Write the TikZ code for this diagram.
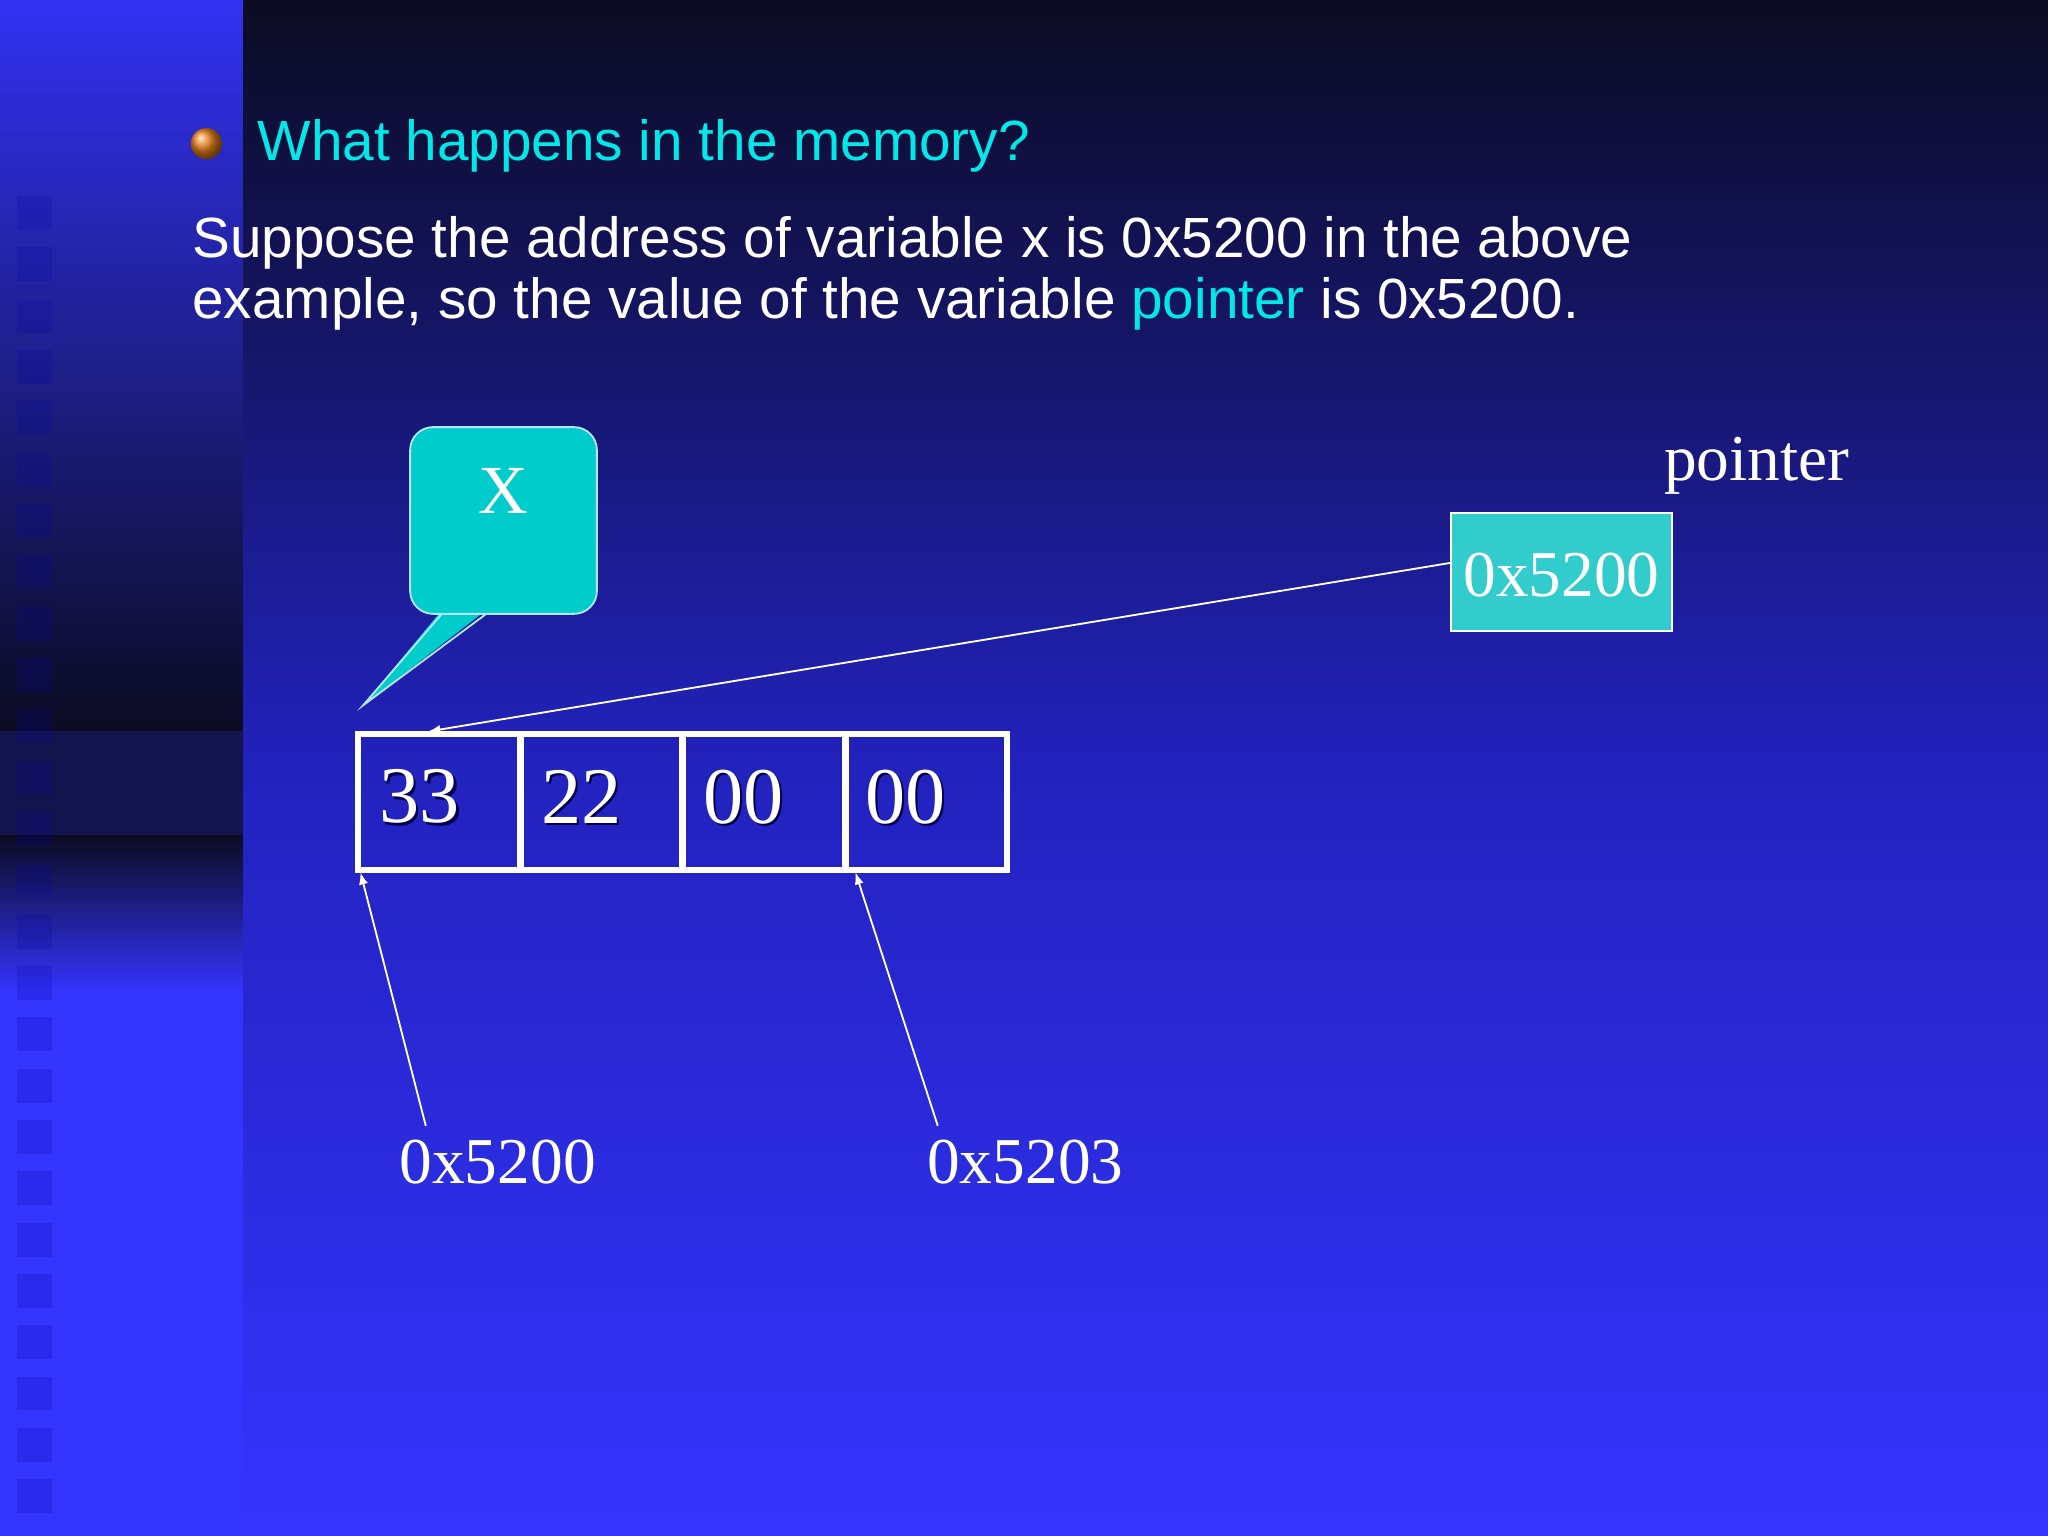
\documentclass[tikz,border=0pt]{standalone}
\usepackage{fontspec}
\setmainfont{Liberation Serif}
\newfontfamily\sans{Liberation Sans}
\begin{document}
\begin{tikzpicture}[x=0.02cm,y=-0.02cm,
  cell/.style={draw=white,line width=2.5pt},
  big/.style={text=white,font=\fontsize{36}{40}\selectfont},
  lab/.style={text=white,font=\fontsize{27}{30}\selectfont},
  arr/.style={draw=white,line width=0.8pt,-latex}]
\useasboundingbox (0,0) rectangle (1568,1176);
\definecolor{navy}{HTML}{0B0B22}
\definecolor{blu}{HTML}{3434FF}
\definecolor{cyt}{HTML}{00E8E8}
\definecolor{callc}{HTML}{00CCCC}
\definecolor{ptrc}{HTML}{33CCCC}
\shade[top color=navy,bottom color=blu,middle color={rgb,255:red,34;green,34;blue,190}] (186,0) rectangle (1568,1176);
\shade[top color=blu!95!black,bottom color=navy] (0,0) rectangle (186,560);
\fill[navy!80!blu] (0,560) rectangle (186,640);
\shade[top color=navy,bottom color=blu] (0,640) rectangle (186,760);
\fill[blu] (0,760) rectangle (186,1176);
\foreach \i in {0,...,25} \fill[blue!60!navy,opacity=0.2] (13,{150+\i*39.3}) rectangle (40,{176+\i*39.3});
\shade[ball color=orange!60!brown] (158,110) circle (12);
\node[anchor=base west,inner sep=0,text=cyt,font=\sans\fontsize{24.7}{28}\selectfont] (title) at (197,123) {What happens in the memory?};
\node[anchor=base west,inner sep=0,text=white,font=\sans\fontsize{24.7}{27}\selectfont] (l1) at (147,197) {Suppose the address of variable x is 0x5200 in the above};
\node[anchor=base west,inner sep=0,text=white,font=\sans\fontsize{24.7}{27}\selectfont] (l2) at (147,244) {example, so the value of the variable \textcolor{cyt}{pointer} is 0x5200.};
% callout
\fill[callc] (340,465) -- (278,540) -- (375,465) -- cycle;
\draw[white!70!cyan,line width=0.8pt] (340,468) -- (278,540) -- (375,468);
\node[draw=white!70!cyan,line width=0.8pt,fill=callc,rounded corners=10pt,minimum width=143*0.02cm,minimum height=143*0.02cm] (call) at (385.5,398.5) {};
\node[lab,font=\fontsize{30}{32}\selectfont] (xl) at (385,376) {X};
% cells
\node[cell,minimum width=124*0.02cm,minimum height=104*0.02cm,inner sep=0] (c1) at (336,614) {};
\node[cell,minimum width=124*0.02cm,minimum height=104*0.02cm,inner sep=0] (c2) at (460,614) {};
\node[cell,minimum width=124*0.02cm,minimum height=104*0.02cm,inner sep=0] (c3) at (584.5,614) {};
\node[cell,minimum width=124*0.02cm,minimum height=104*0.02cm,inner sep=0] (c4) at (709,614) {};
\draw[white,line width=1.2pt] (c1.north east) -- (c1.south east) (c2.north east)--(c2.south east) (c3.north east)--(c3.south east);
\foreach \t/\x in {33/290,22/414,00/538,00/662}{
  \node[anchor=west,text=black!70!blue,font=\fontsize{35}{40}\selectfont,inner sep=0] at (\x+2,612) {\t};
  \node[anchor=west,big,font=\fontsize{35}{40}\selectfont,inner sep=0] at (\x,610) {\t};}
% pointer
\node[draw=white,line width=0.8pt,fill=ptrc,minimum width=169*0.02cm,minimum height=90*0.02cm,inner sep=0] (ptr) at (1195.5,438) {};
\node[lab,font=\fontsize{28.5}{30}\selectfont] at (1195.5,440) {0x5200};
\node[lab,font=\fontsize{28.5}{30}\selectfont] (plab) at (1345,357) {pointer};
\coordinate (tgt) at (328,560);
\draw[arr] (ptr.west |- 0,431) -- (tgt);
\node[lab,font=\fontsize{28.5}{30}\selectfont] (a0) at (381,890) {0x5200};
\node[lab,font=\fontsize{28.5}{30}\selectfont] (a3) at (785,890) {0x5203};
\coordinate (s0) at (326,862); \coordinate (s3) at (718,862);
\draw[arr] (s0) -- (276,668);
\draw[arr] (s3) -- (655,668);
\end{tikzpicture}
\end{document}
